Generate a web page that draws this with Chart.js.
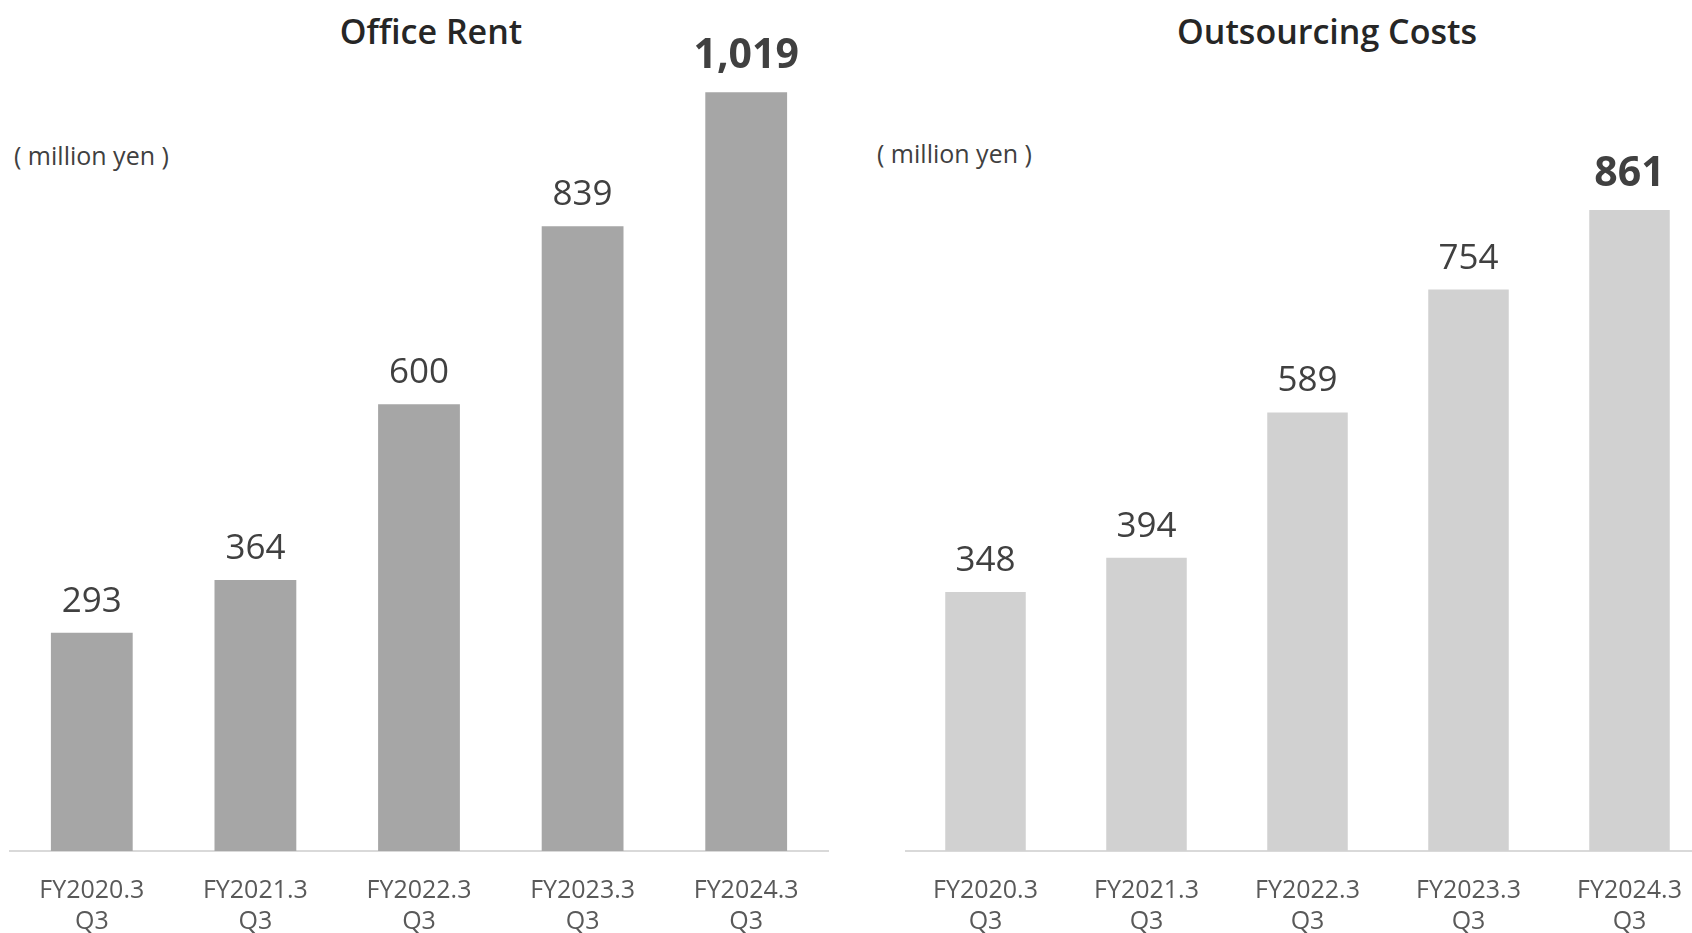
<!DOCTYPE html>
<html>
<head>
<meta charset="utf-8">
<script src="https://cdn.jsdelivr.net/npm/chart.js@4"></script>
<style>
  html, body { margin: 0; padding: 0; width: 1692px; height: 933px; overflow: hidden; background: #ffffff; }
  body { position: relative; font-family: "Open Sans", "Noto Sans", sans-serif; }
  canvas { position: absolute; top: 0; }
  .title { position: absolute; top: 8px; font-weight: 600; font-size: 34px; color: #262626; white-space: nowrap; transform: translateX(-50%); }
  .unit { position: absolute; font-size: 25px; color: #404040; white-space: nowrap; }
</style>
</head>
<body>
<div class="title" style="left:431px;">Office Rent</div>
<div class="title" style="left:1327px;">Outsourcing Costs</div>
<div class="unit" style="left:14px; top:138px;">( million yen )</div>
<div class="unit" style="left:877px; top:136px;">( million yen )</div>
<canvas id="rentChart" width="846" height="933" style="left:0px;"></canvas>
<canvas id="outsourcingChart" width="805" height="933" style="left:905px;"></canvas>
<script>
// Периоды (одинаковые для обоих графиков)
const periods = [
    ['FY2020.3', 'Q3'],
    ['FY2021.3', 'Q3'],
    ['FY2022.3', 'Q3'],
    ['FY2023.3', 'Q3'],
    ['FY2024.3', 'Q3']
];

// Значения, млн иен
const officeRent = [293, 364, 600, 839, 1019];
const outsourcingCosts = [348, 394, 589, 754, 861];

// Общий масштаб оси Y, чтобы столбцы были сопоставимы
const yMax = 1100;

// Подписи значений над столбцами (последний — жирным)
const valueLabels = {
    id: 'valueLabels',
    afterDatasetsDraw(chart) {
        const ctx = chart.ctx;
        const meta = chart.getDatasetMeta(0);
        const data = chart.data.datasets[0].data;
        ctx.save();
        ctx.textAlign = 'center';
        ctx.textBaseline = 'middle';
        ctx.fillStyle = '#404040';
        meta.data.forEach((bar, i) => {
            const last = i === data.length - 1;
            ctx.font = last
                ? '700 41px "Open Sans", "Noto Sans", sans-serif'
                : '400 35px "Open Sans", "Noto Sans", sans-serif';
            ctx.fillText(data[i].toLocaleString('en-US'), bar.x, bar.y - (last ? 36 : 31));
        });
        ctx.restore();
    }
};

function makeChart(canvasId, values, color, padLeft, padRight) {
    return new Chart(document.getElementById(canvasId), {
        type: 'bar',
        data: {
            labels: periods,
            datasets: [{
                data: values,
                backgroundColor: color,
                borderWidth: 0,
                categoryPercentage: 1,
                barPercentage: 0.5
            }]
        },
        options: {
            responsive: false,
            animation: false,
            layout: { padding: { top: 32, bottom: 0, left: padLeft, right: padRight } },
            plugins: {
                legend: { display: false },
                tooltip: { enabled: false }
            },
            scales: {
                x: {
                    grid: { display: false, drawTicks: false },
                    border: { display: true, color: '#d9d9d9', width: 2 },
                    ticks: {
                        color: '#595959',
                        padding: 24,
                        maxRotation: 0,
                        autoSkip: false,
                        font: { family: '"Open Sans", "Noto Sans", sans-serif', size: 25, lineHeight: 1.25 }
                    },
                    afterFit(scale) { scale.height = 82; }
                },
                y: {
                    display: false,
                    min: 0,
                    max: yMax
                }
            }
        },
        plugins: [valueLabels]
    });
}

makeChart('rentChart', officeRent, '#a6a6a6', 10, 18);
makeChart('outsourcingChart', outsourcingCosts, '#d1d1d1', 0, 0);
</script>
</body>
</html>
